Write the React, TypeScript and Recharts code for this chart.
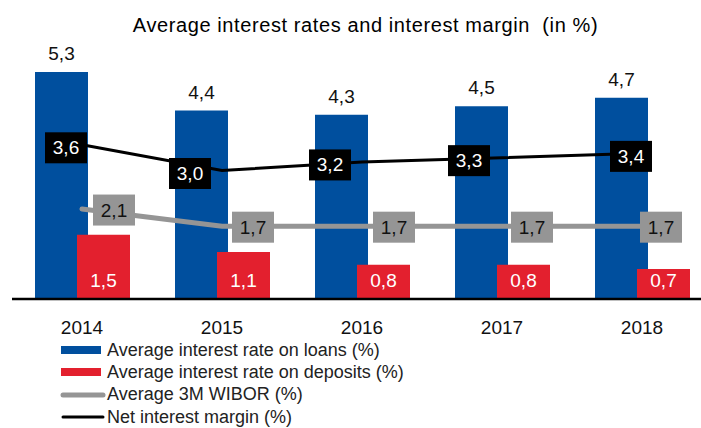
import { ComposedChart, Bar, Line, XAxis, YAxis, Legend, LabelList } from 'recharts';

const years = ['2014', '2015', '2016', '2017', '2018'];
const loanRates = [5.3, 4.4, 4.3, 4.5, 4.7];
const depositRates = [1.5, 1.1, 0.8, 0.8, 0.7];
const wibor = [2.1, 1.7, 1.7, 1.7, 1.7];
const netMargin = [3.6, 3.0, 3.2, 3.3, 3.4];

const data = years.map((year, i) => ({
  year,
  loans: loanRates[i],
  deposits: depositRates[i],
  wibor: wibor[i],
  margin: netMargin[i],
}));

const BLUE = '#004f9e';
const RED = '#e3202e';
const GREY = '#959595';
const FONT = '"Liberation Sans", Arial, sans-serif';

// label boxes sit beside the points, as in the original
const marginShift = [-16, -32, -32, -33, -11];
const wiborShift = [32, 31, 32, 30, 19];

const fmt = (v: number) => v.toFixed(1).replace('.', ',');

function BoxLabel(props: any, shift: number[], fill: string, color: string, dy: number) {
  const { x, y, value, index } = props;
  const cx = x + shift[index];
  const cy = y + dy;
  return (
    <g key={index}>
      <rect x={cx - 21} y={cy - 15.5} width={42} height={31} fill={fill} />
      <text x={cx} y={cy} textAnchor="middle" dominantBaseline="central" fontSize={19} fill={color} fontFamily={FONT}>
        {fmt(value)}
      </text>
    </g>
  );
}

const legendItems = [
  { label: 'Average interest rate on loans (%)', kind: 'rect', color: BLUE },
  { label: 'Average interest rate on deposits (%)', kind: 'rect', color: RED },
  { label: 'Average 3M WIBOR (%)', kind: 'line', color: GREY, width: 5 },
  { label: 'Net interest margin (%)', kind: 'line', color: '#000', width: 3 },
];

function LegendBox() {
  return (
    <div style={{ fontFamily: FONT, fontSize: 18, color: '#222' }}>
      {legendItems.map((it) => (
        <div key={it.label} style={{ display: 'flex', alignItems: 'center', height: 22.3, whiteSpace: 'nowrap' }}>
          <svg width={46} height={12} style={{ marginRight: 1 }}>
            {it.kind === 'rect' ? (
              <rect x={1} y={2} width={40} height={8} fill={it.color} />
            ) : (
              <line x1={3} y1={6} x2={43} y2={6} stroke={it.color} strokeWidth={it.width} strokeLinecap="round" />
            )}
          </svg>
          <span>{it.label}</span>
        </div>
      ))}
    </div>
  );
}

export default function App() {
  return (
    <div style={{ position: 'absolute', left: 0, top: 0, width: 701, height: 428, overflow: 'hidden', background: '#fff' }}>
      <div
        style={{
          position: 'absolute',
          top: 14,
          left: 0,
          width: 731,
          textAlign: 'center',
          fontFamily: FONT,
          fontSize: 20,
          letterSpacing: 0.6,
          color: '#000',
        }}
      >
        Average interest rates and interest margin&nbsp; (in %)
      </div>
      <ComposedChart
        width={720}
        height={428}
        data={data}
        margin={{ top: 42, right: 8, bottom: 99, left: 12 }}
        barSize={53}
        barGap={-11}
        barCategoryGap={0}
      >
        <XAxis
          dataKey="year"
          height={30}
          tickLine={false}
          tickSize={20}
          axisLine={{ stroke: '#000', strokeWidth: 2.5 }}
          tick={{ fontSize: 19, fill: '#111', fontFamily: FONT }}
        />
        <YAxis hide domain={[0, 6]} />
        <Bar dataKey="loans" fill={BLUE} isAnimationActive={false}>
          <LabelList
            dataKey="loans"
            position="top"
            offset={12}
            formatter={(v: any) => fmt(Number(v))}
            style={{ fontSize: 19, fill: '#111', fontFamily: FONT }}
          />
        </Bar>
        <Bar dataKey="deposits" fill={RED} isAnimationActive={false}>
          <LabelList
            dataKey="deposits"
            position="insideBottom"
            offset={12}
            formatter={(v: any) => fmt(Number(v))}
            style={{ fontSize: 19, fill: '#fff', fontFamily: FONT }}
          />
        </Bar>
        <Line
          dataKey="wibor"
          stroke={GREY}
          strokeWidth={5}
          strokeLinecap="round"
          dot={false}
          isAnimationActive={false}
          label={(p: any) => BoxLabel(p, wiborShift, GREY, '#111', 1)}
        />
        <Line
          dataKey="margin"
          stroke="#000"
          strokeWidth={3}
          dot={false}
          isAnimationActive={false}
          label={(p: any) => BoxLabel(p, marginShift, '#000', '#fff', 3)}
        />
        <Legend
          layout="vertical"
          align="center"
          verticalAlign="middle"
          content={() => <LegendBox />}
          wrapperStyle={{ left: 60, top: 339, width: 420, height: 90 }}
        />
      </ComposedChart>
    </div>
  );
}
